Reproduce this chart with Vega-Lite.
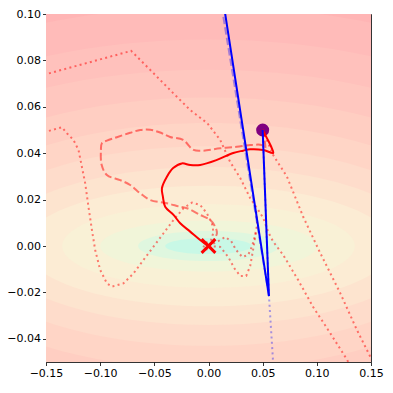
{
  "$schema": "https://vega.github.io/schema/vega-lite/v6.json",
  "width": 325,
  "height": 348,
  "autosize": {"type": "none"},
  "padding": {"left": 46, "top": 14, "right": 22, "bottom": 31},
  "background": "white",
  "config": {
    "view": {"stroke": "#333", "strokeWidth": 1, "fill": "#ffb0b0"},
    "axis": {"grid": false, "domain": false, "tickSize": 3.5, "tickColor": "black", "tickWidth": 0.8, "labelFont": "DejaVu Sans", "labelFontSize": 11, "labelColor": "black", "labelPadding": 2, "labelFlush": false, "labelOverlap": false, "title": null}
  },
  "datasets": {
    "bands": [
      {"level": "L12", "a": 0.47, "b": 0.118},
      {"level": "L11", "a": 0.42, "b": 0.103},
      {"level": "L10", "a": 0.38, "b": 0.089},
      {"level": "L09", "a": 0.34, "b": 0.076},
      {"level": "L08", "a": 0.30, "b": 0.064},
      {"level": "L07", "a": 0.26, "b": 0.053},
      {"level": "L06", "a": 0.23, "b": 0.043},
      {"level": "L05", "a": 0.20, "b": 0.034},
      {"level": "L04", "a": 0.17, "b": 0.026},
      {"level": "L03", "a": 0.135, "b": 0.018},
      {"level": "L02", "a": 0.10, "b": 0.011},
      {"level": "L01", "a": 0.065, "b": 0.0065},
      {"level": "L00", "a": 0.04, "b": 0.0035}
    ],
    "paths": [
      {"s": "dotA", "i": 0, "x": -0.152, "y": 0.0738},
      {"s": "dotA", "i": 1, "x": -0.0714, "y": 0.0841},
      {"s": "dotA", "i": 2, "x": -0.0538, "y": 0.0759},
      {"s": "dotA", "i": 3, "x": -0.0326, "y": 0.0659},
      {"s": "dotA", "i": 4, "x": -0.0169, "y": 0.0586},
      {"s": "dotA", "i": 5, "x": -0.0012, "y": 0.0530},
      {"s": "dotA", "i": 6, "x": 0.0108, "y": 0.0457},
      {"s": "dotA", "i": 7, "x": 0.0200, "y": 0.0362},
      {"s": "dotA", "i": 8, "x": 0.0293, "y": 0.0293},
      {"s": "dotA", "i": 9, "x": 0.0385, "y": 0.0206},
      {"s": "dotA", "i": 10, "x": 0.0459, "y": 0.0155},
      {"s": "dotA", "i": 11, "x": 0.0505, "y": 0.0121},
      {"s": "dotA", "i": 12, "x": 0.0551, "y": 0.0060},
      {"s": "dotA", "i": 13, "x": 0.0597, "y": 0.0019},
      {"s": "dotA", "i": 14, "x": 0.0690, "y": -0.0039},
      {"s": "dotA", "i": 15, "x": 0.0828, "y": -0.0147},
      {"s": "dotA", "i": 16, "x": 0.0966, "y": -0.0263},
      {"s": "dotA", "i": 17, "x": 0.1123, "y": -0.0375},
      {"s": "dotA", "i": 18, "x": 0.1280, "y": -0.0491},
      {"s": "dotA", "i": 19, "x": 0.1308, "y": -0.0517},

      {"s": "dotB", "i": 0, "x": 0.05, "y": 0.05},
      {"s": "dotB", "i": 1, "x": 0.0597, "y": 0.0392},
      {"s": "dotB", "i": 2, "x": 0.0724, "y": 0.0299},
      {"s": "dotB", "i": 3, "x": 0.0874, "y": 0.0126},
      {"s": "dotB", "i": 4, "x": 0.1031, "y": -0.0030},
      {"s": "dotB", "i": 5, "x": 0.1216, "y": -0.0203},
      {"s": "dotB", "i": 6, "x": 0.1370, "y": -0.0362},
      {"s": "dotB", "i": 7, "x": 0.1493, "y": -0.0477},
      {"s": "dotB", "i": 8, "x": 0.1530, "y": -0.0517},

      {"s": "dotC", "i": 0, "x": -0.152, "y": 0.0490},
      {"s": "dotC", "i": 1, "x": -0.1353, "y": 0.0512},
      {"s": "dotC", "i": 2, "x": -0.1307, "y": 0.0486},
      {"s": "dotC", "i": 3, "x": -0.1246, "y": 0.0457},
      {"s": "dotC", "i": 4, "x": -0.1200, "y": 0.0414},
      {"s": "dotC", "i": 5, "x": -0.1169, "y": 0.0342},
      {"s": "dotC", "i": 6, "x": -0.1138, "y": 0.0270},
      {"s": "dotC", "i": 7, "x": -0.1108, "y": 0.0169},
      {"s": "dotC", "i": 8, "x": -0.1076, "y": 0.0069},
      {"s": "dotC", "i": 9, "x": -0.1046, "y": -0.0017},
      {"s": "dotC", "i": 10, "x": -0.1000, "y": -0.0103},
      {"s": "dotC", "i": 11, "x": -0.0938, "y": -0.0161},
      {"s": "dotC", "i": 12, "x": -0.0892, "y": -0.0175},
      {"s": "dotC", "i": 13, "x": -0.0785, "y": -0.0161},
      {"s": "dotC", "i": 14, "x": -0.0692, "y": -0.0118},
      {"s": "dotC", "i": 15, "x": -0.0600, "y": -0.0060},
      {"s": "dotC", "i": 16, "x": -0.0508, "y": -0.0003},
      {"s": "dotC", "i": 17, "x": -0.0415, "y": 0.0055},
      {"s": "dotC", "i": 18, "x": -0.0323, "y": 0.0112},
      {"s": "dotC", "i": 19, "x": -0.0231, "y": 0.0163},
      {"s": "dotC", "i": 20, "x": -0.0153, "y": 0.0187},
      {"s": "dotC", "i": 21, "x": -0.0077, "y": 0.0177},
      {"s": "dotC", "i": 22, "x": -0.0015, "y": 0.0141},
      {"s": "dotC", "i": 23, "x": 0.0031, "y": 0.0098},
      {"s": "dotC", "i": 24, "x": 0.0046, "y": 0.0060},
      {"s": "dotC", "i": 25, "x": 0.0025, "y": 0.0026},
      {"s": "dotC", "i": 26, "x": -0.0030, "y": 0.0013},
      {"s": "dotC", "i": 27, "x": -0.0049, "y": -0.0009},
      {"s": "dotC", "i": 28, "x": -0.0003, "y": -0.0017},
      {"s": "dotC", "i": 29, "x": 0.0034, "y": 0.0},

      {"s": "dotE", "i": 0, "x": 0.0, "y": 0.0},
      {"s": "dotE", "i": 1, "x": 0.0090, "y": 0.0021},
      {"s": "dotE", "i": 2, "x": 0.0154, "y": 0.0039},
      {"s": "dotE", "i": 3, "x": 0.0209, "y": 0.0021},
      {"s": "dotE", "i": 4, "x": 0.0255, "y": -0.0017},
      {"s": "dotE", "i": 5, "x": 0.0311, "y": -0.0047},
      {"s": "dotE", "i": 6, "x": 0.0366, "y": -0.0039},
      {"s": "dotE", "i": 7, "x": 0.0403, "y": 0.0000},
      {"s": "dotE", "i": 8, "x": 0.0431, "y": 0.0047},
      {"s": "dotE", "i": 9, "x": 0.0450, "y": 0.0095},
      {"s": "dotE", "i": 10, "x": 0.0440, "y": 0.0150},

      {"s": "dotF", "i": 0, "x": 0.0, "y": 0.0},
      {"s": "dotF", "i": 1, "x": 0.0108, "y": -0.0004},
      {"s": "dotF", "i": 2, "x": 0.0182, "y": -0.0047},
      {"s": "dotF", "i": 3, "x": 0.0237, "y": -0.0095},
      {"s": "dotF", "i": 4, "x": 0.0293, "y": -0.0129},
      {"s": "dotF", "i": 5, "x": 0.0348, "y": -0.0129},
      {"s": "dotF", "i": 6, "x": 0.0385, "y": -0.0086},
      {"s": "dotF", "i": 7, "x": 0.0403, "y": -0.0039},
      {"s": "dotF", "i": 8, "x": 0.0422, "y": 0.0013},
      {"s": "dotF", "i": 9, "x": 0.0440, "y": 0.0069},

      {"s": "dash", "i": 0, "x": 0.05, "y": 0.05},
      {"s": "dash", "i": 1, "x": 0.0523, "y": 0.0422},
      {"s": "dash", "i": 2, "x": 0.0493, "y": 0.0435},
      {"s": "dash", "i": 3, "x": 0.0385, "y": 0.0435},
      {"s": "dash", "i": 4, "x": 0.0262, "y": 0.0428},
      {"s": "dash", "i": 5, "x": 0.0108, "y": 0.0421},
      {"s": "dash", "i": 6, "x": -0.0046, "y": 0.0411},
      {"s": "dash", "i": 7, "x": -0.0138, "y": 0.0414},
      {"s": "dash", "i": 8, "x": -0.0234, "y": 0.0457},
      {"s": "dash", "i": 9, "x": -0.0354, "y": 0.0470},
      {"s": "dash", "i": 10, "x": -0.0446, "y": 0.0489},
      {"s": "dash", "i": 11, "x": -0.0538, "y": 0.0501},
      {"s": "dash", "i": 12, "x": -0.0630, "y": 0.0500},
      {"s": "dash", "i": 13, "x": -0.0723, "y": 0.0488},
      {"s": "dash", "i": 14, "x": -0.0846, "y": 0.0469},
      {"s": "dash", "i": 15, "x": -0.0938, "y": 0.0454},
      {"s": "dash", "i": 16, "x": -0.0984, "y": 0.0443},
      {"s": "dash", "i": 17, "x": -0.0993, "y": 0.0414},
      {"s": "dash", "i": 18, "x": -0.0986, "y": 0.0349},
      {"s": "dash", "i": 19, "x": -0.0938, "y": 0.0306},
      {"s": "dash", "i": 20, "x": -0.0815, "y": 0.0284},
      {"s": "dash", "i": 21, "x": -0.0723, "y": 0.0263},
      {"s": "dash", "i": 22, "x": -0.0630, "y": 0.0227},
      {"s": "dash", "i": 23, "x": -0.0538, "y": 0.0198},
      {"s": "dash", "i": 24, "x": -0.0384, "y": 0.0184},
      {"s": "dash", "i": 25, "x": -0.0261, "y": 0.0169},
      {"s": "dash", "i": 26, "x": -0.0199, "y": 0.0163},
      {"s": "dash", "i": 27, "x": -0.0077, "y": 0.0134},
      {"s": "dash", "i": 28, "x": 0.0016, "y": 0.0112},
      {"s": "dash", "i": 29, "x": 0.0062, "y": 0.0083},
      {"s": "dash", "i": 30, "x": 0.0078, "y": 0.0055},
      {"s": "dash", "i": 31, "x": 0.0046, "y": 0.0026},
      {"s": "dash", "i": 32, "x": 0.0, "y": 0.0004},

      {"s": "solid", "i": 0, "x": 0.05, "y": 0.05},
      {"s": "solid", "i": 1, "x": 0.0538, "y": 0.0466},
      {"s": "solid", "i": 2, "x": 0.0584, "y": 0.0422},
      {"s": "solid", "i": 3, "x": 0.0597, "y": 0.0401},
      {"s": "solid", "i": 4, "x": 0.0505, "y": 0.0414},
      {"s": "solid", "i": 5, "x": 0.0385, "y": 0.0417},
      {"s": "solid", "i": 6, "x": 0.0320, "y": 0.0411},
      {"s": "solid", "i": 7, "x": 0.0228, "y": 0.0401},
      {"s": "solid", "i": 8, "x": 0.0078, "y": 0.0371},
      {"s": "solid", "i": 9, "x": -0.0077, "y": 0.0349},
      {"s": "solid", "i": 10, "x": -0.0169, "y": 0.0349},
      {"s": "solid", "i": 11, "x": -0.0246, "y": 0.0356},
      {"s": "solid", "i": 12, "x": -0.0326, "y": 0.0336},
      {"s": "solid", "i": 13, "x": -0.0384, "y": 0.0299},
      {"s": "solid", "i": 14, "x": -0.0430, "y": 0.0249},
      {"s": "solid", "i": 15, "x": -0.0421, "y": 0.0213},
      {"s": "solid", "i": 16, "x": -0.0400, "y": 0.0169},
      {"s": "solid", "i": 17, "x": -0.0323, "y": 0.0134},
      {"s": "solid", "i": 18, "x": -0.0261, "y": 0.0098},
      {"s": "solid", "i": 19, "x": -0.0169, "y": 0.0062},
      {"s": "solid", "i": 20, "x": -0.0077, "y": 0.0026},
      {"s": "solid", "i": 21, "x": -0.0015, "y": 0.0004},
      {"s": "solid", "i": 22, "x": 0.0, "y": 0.0},

      {"s": "bdot", "i": 0, "x": 0.05, "y": 0.05},
      {"s": "bdot", "i": 1, "x": 0.0558, "y": -0.0216},
      {"s": "bdot", "i": 2, "x": 0.0594, "y": -0.0483},
      {"s": "bdot", "i": 3, "x": 0.0598, "y": -0.0530},

      {"s": "bdash", "i": 0, "x": 0.0558, "y": -0.0216},
      {"s": "bdash", "i": 1, "x": 0.0098, "y": 0.11},

      {"s": "bsolid", "i": 0, "x": 0.05, "y": 0.05},
      {"s": "bsolid", "i": 1, "x": 0.0558, "y": -0.0216},
      {"s": "bsolid", "i": 2, "x": 0.0121, "y": 0.11}
    ],
    "start": [{"x": 0.05, "y": 0.05}],
    "optimum": [{"x": 0.0, "y": 0.0}]
  },
  "layer": [
    {
      "data": {"name": "bands"},
      "mark": {"type": "point", "filled": true, "opacity": 1, "strokeWidth": 0, "clip": true},
      "encoding": {
        "x": {"datum": 0, "type": "quantitative", "scale": {"domain": [-0.15, 0.15], "nice": false, "zero": false}, "axis": {"values": [-0.15, -0.1, -0.05, 0, 0.05, 0.1, 0.15], "format": ".2f"}},
        "y": {"datum": 0, "type": "quantitative", "scale": {"domain": [-0.05, 0.1], "nice": false, "zero": false}, "axis": {"values": [-0.04, -0.02, 0, 0.02, 0.04, 0.06, 0.08, 0.1], "format": ".2f"}},
        "size": {"field": "a", "type": "quantitative", "scale": {"type": "pow", "exponent": 2, "domain": [0, 1], "range": [0, 4694444]}, "legend": null},
        "shape": {"field": "level", "type": "nominal", "legend": null, "scale": {
          "domain": ["L12", "L11", "L10", "L09", "L08", "L07", "L06", "L05", "L04", "L03", "L02", "L01", "L00"],
          "range": [
            "M-1,0A1,0.5377,0,1,0,1,0A1,0.5377,0,1,0,-1,0Z",
            "M-1,0A1,0.5252,0,1,0,1,0A1,0.5252,0,1,0,-1,0Z",
            "M-1,0A1,0.5016,0,1,0,1,0A1,0.5016,0,1,0,-1,0Z",
            "M-1,0A1,0.4787,0,1,0,1,0A1,0.4787,0,1,0,-1,0Z",
            "M-1,0A1,0.4568,0,1,0,1,0A1,0.4568,0,1,0,-1,0Z",
            "M-1,0A1,0.4365,0,1,0,1,0A1,0.4365,0,1,0,-1,0Z",
            "M-1,0A1,0.4004,0,1,0,1,0A1,0.4004,0,1,0,-1,0Z",
            "M-1,0A1,0.3641,0,1,0,1,0A1,0.3641,0,1,0,-1,0Z",
            "M-1,0A1,0.3275,0,1,0,1,0A1,0.3275,0,1,0,-1,0Z",
            "M-1,0A1,0.2855,0,1,0,1,0A1,0.2855,0,1,0,-1,0Z",
            "M-1,0A1,0.2356,0,1,0,1,0A1,0.2356,0,1,0,-1,0Z",
            "M-1,0A1,0.2142,0,1,0,1,0A1,0.2142,0,1,0,-1,0Z",
            "M-1,0A1,0.1874,0,1,0,1,0A1,0.1874,0,1,0,-1,0Z"
          ]}},
        "color": {"field": "level", "type": "nominal", "legend": null, "scale": {
          "domain": ["L12", "L11", "L10", "L09", "L08", "L07", "L06", "L05", "L04", "L03", "L02", "L01", "L00"],
          "range": ["#ffb5b5", "#ffbbb9", "#ffc1bc", "#ffc7bf", "#ffcec2", "#ffd5c6", "#fedccb", "#fde4cf", "#fcecd4", "#f9f1d6", "#f1f5d9", "#dff7df", "#c8f8e6"]}},
        "order": {"field": "a", "sort": "descending"}
      }
    },
    {
      "data": {"name": "start"},
      "mark": {"type": "point", "shape": "circle", "filled": true, "color": "purple", "opacity": 1, "size": 170, "strokeWidth": 0},
      "encoding": {"x": {"field": "x", "type": "quantitative"}, "y": {"field": "y", "type": "quantitative"}}
    },
    {
      "data": {"name": "paths"},
      "transform": [{"filter": "indexof(['dotA','dotB','dotC','dotE','dotF'], datum.s) >= 0"}],
      "mark": {"type": "line", "color": "red", "opacity": 0.5, "strokeWidth": 2, "strokeDash": [2, 3.3], "strokeCap": "butt", "clip": true},
      "encoding": {"x": {"field": "x", "type": "quantitative"}, "y": {"field": "y", "type": "quantitative"}, "detail": {"field": "s"}, "order": {"field": "i", "type": "quantitative"}}
    },
    {
      "data": {"name": "paths"},
      "transform": [{"filter": "datum.s == 'dash'"}],
      "mark": {"type": "line", "color": "red", "opacity": 0.5, "strokeWidth": 2, "strokeDash": [7.4, 3.2], "clip": true, "interpolate": "catmull-rom"},
      "encoding": {"x": {"field": "x", "type": "quantitative"}, "y": {"field": "y", "type": "quantitative"}, "order": {"field": "i", "type": "quantitative"}}
    },
    {
      "data": {"name": "paths"},
      "transform": [{"filter": "datum.s == 'bdot'"}],
      "mark": {"type": "line", "color": "blue", "opacity": 0.35, "strokeWidth": 2, "strokeDash": [2, 3.3], "clip": true},
      "encoding": {"x": {"field": "x", "type": "quantitative"}, "y": {"field": "y", "type": "quantitative"}, "order": {"field": "i", "type": "quantitative"}}
    },
    {
      "data": {"name": "paths"},
      "transform": [{"filter": "datum.s == 'bdash'"}],
      "mark": {"type": "line", "color": "blue", "opacity": 0.35, "strokeWidth": 2, "strokeDash": [7.4, 3.2], "clip": true},
      "encoding": {"x": {"field": "x", "type": "quantitative"}, "y": {"field": "y", "type": "quantitative"}, "order": {"field": "i", "type": "quantitative"}}
    },
    {
      "data": {"name": "paths"},
      "transform": [{"filter": "datum.s == 'solid'"}],
      "mark": {"type": "line", "color": "red", "strokeWidth": 2, "clip": true, "interpolate": "catmull-rom"},
      "encoding": {"x": {"field": "x", "type": "quantitative"}, "y": {"field": "y", "type": "quantitative"}, "order": {"field": "i", "type": "quantitative"}}
    },
    {
      "data": {"name": "paths"},
      "transform": [{"filter": "datum.s == 'bsolid'"}],
      "mark": {"type": "line", "color": "blue", "strokeWidth": 2, "clip": true},
      "encoding": {"x": {"field": "x", "type": "quantitative"}, "y": {"field": "y", "type": "quantitative"}, "order": {"field": "i", "type": "quantitative"}}
    },
    {
      "data": {"name": "optimum"},
      "mark": {"type": "point", "shape": "M-1,-1L1,1M1,-1L-1,1", "filled": false, "color": "red", "opacity": 1, "size": 190, "strokeWidth": 3},
      "encoding": {"x": {"field": "x", "type": "quantitative"}, "y": {"field": "y", "type": "quantitative"}}
    }
  ]
}
